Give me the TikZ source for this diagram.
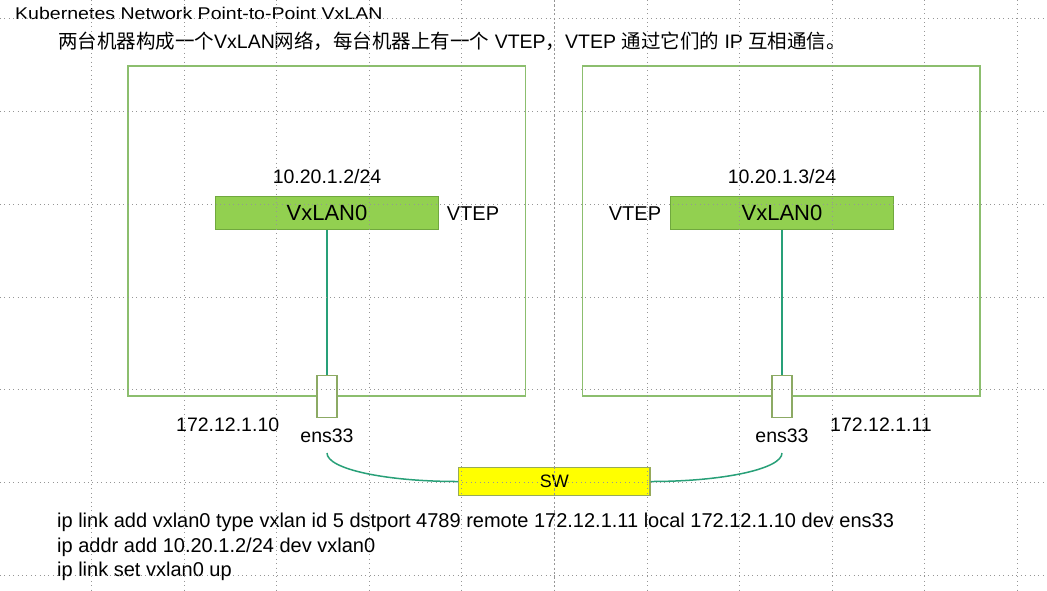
\documentclass[tikz,border=0pt]{standalone}
\usepackage{fontspec}
\setmainfont{Liberation Sans}
\newfontfamily\cjk{Noto Sans CJK SC}
\definecolor{boxgreen}{RGB}{140,190,110}
\definecolor{vxfill}{RGB}{146,208,80}
\definecolor{vxborder}{RGB}{112,168,62}
\definecolor{portborder}{RGB}{140,170,100}
\definecolor{wire}{RGB}{40,160,120}
\definecolor{swfill}{RGB}{255,255,0}
\definecolor{swborder}{RGB}{150,170,90}
\definecolor{guide}{RGB}{150,150,150}
\tikzset{
  machine/.style={draw=boxgreen,line width=1.8pt,fill=none,minimum width=397.8pt,minimum height=330pt,inner sep=0pt},
  vxbox/.style={draw=vxborder,line width=1.2pt,fill=vxfill,minimum width=222.6pt,minimum height=32.3pt,inner sep=0pt,font=\fontsize{22}{26}\selectfont},
  portbox/.style={draw=portborder,line width=1.4pt,fill=white,minimum width=20pt,minimum height=42pt,inner sep=0pt},
  swbox/.style={draw=swborder,line width=1.4pt,fill=swfill,minimum width=191.3pt,minimum height=28.4pt,inner sep=0pt,font=\fontsize{18}{21}\selectfont},
  lbl/.style={inner sep=0pt,anchor=base,font=\fontsize{19.5}{23}\selectfont},
  cmd/.style={inner sep=0pt,anchor=base west,font=\fontsize{20}{24}\selectfont},
  wireline/.style={draw=wire,line width=1.5pt},
  guideline/.style={draw=guide,line width=0.7pt,dash pattern=on 0.8pt off 3.6pt},
  centerguide/.style={draw=guide,line width=0.7pt,dash pattern=on 2.2pt off 2.2pt}
}
\begin{document}
\begin{tikzpicture}[x=1pt,y=-1pt]
\useasboundingbox (0,0) rectangle (1047,590);
\fill[white] (0,0) rectangle (1047,590);

% title texts
\node[inner sep=0pt,anchor=base west] (title) at (15,19.3)
  {\scalebox{1.15}[1]{\fontsize{17}{20}\selectfont Kubernetes Network Point-to-Point VxLAN}};
\node[inner sep=0pt,anchor=base west,font=\fontsize{19.5}{23}\selectfont] (subtitle) at (58,48.3)
  {{\cjk 两台机器构成一个}VxLAN{\cjk 网络，每台机器上有一个} VTEP{\cjk ，}VTEP {\cjk 通过它们的} IP {\cjk 互相通信。}};

% machines
\node[machine] (m1) at (326.6,230.7) {};
\node[machine] (m2) at (781.3,230.7) {};

% VTEPs
\node[vxbox] (vx1) at (327,213) {VxLAN0};
\node[vxbox,minimum width=223.3pt] (vx2) at (782,213) {VxLAN0};
\node[lbl] (ip1) at (327,183.3) {10.20.1.2/24};
\node[lbl] (ip2) at (782,183.3) {10.20.1.3/24};
\node[lbl,font=\fontsize{20}{24}\selectfont] (vtep1) at (473,220.7) {VTEP};
\node[lbl,font=\fontsize{20}{24}\selectfont] (vtep2) at (635,220.7) {VTEP};

% ports
\node[portbox] (p1) at (327,396.7) {};
\node[portbox] (p2) at (782,396.7) {};
\draw[wireline] (vx1.south) -- (p1.north);
\draw[wireline] (vx2.south) -- (p2.north);

\node[lbl] (ens1) at (327,442.3) {ens33};
\node[lbl] (ens2) at (782,442.3) {ens33};
\node[lbl] (eth1) at (227.7,431.7) {172.12.1.10};
\node[lbl] (eth2) at (881,431.7) {172.12.1.11};

% switch
\node[swbox] (sw) at (554.3,481.5) {SW};
\coordinate (c1) at (327,453);
\coordinate (c2) at (782,453);
\draw[wireline] (c1) .. controls +(0,16) and +(-73,0) .. (sw.west);
\draw[wireline] (c2) .. controls +(0,16) and +(72,0) .. (sw.east);

% commands
\node[cmd] (cmd1) at (57,527.7) {ip link add vxlan0 type vxlan id 5 dstport 4789 remote 172.12.1.11 local 172.12.1.10 dev ens33};
\node[cmd] (cmd2) at (57,552.2) {ip addr add 10.20.1.2/24 dev vxlan0};
\node[cmd] (cmd3) at (57,576.7) {ip link set vxlan0 up};

% editor guides
\foreach \gx in {-1.3,91.3,183.9,276.5,369.1,461.7,646.9,739.5,832.1,924.7,1017.3}
  \draw[guideline] (\gx,0) -- (\gx,590);
\draw[centerguide] (554.3,0) -- (554.3,590);
\foreach \gy in {18.8,111,204,297,389.5,482,575}
  \draw[guideline] (0,\gy) -- (1047,\gy);
\end{tikzpicture}
\end{document}
